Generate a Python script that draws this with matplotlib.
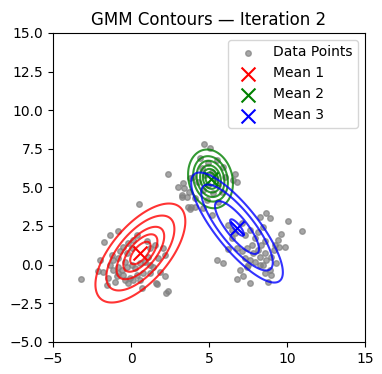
import numpy as np
import matplotlib
matplotlib.use('Agg')
import matplotlib.pyplot as plt

# data points (x, y)
pts_x = [0.53, -3.22, -1.35, -0.81, -1.71, -1.99, -2.1, -1.45, -1.03, -1.56,
         2.18, 1.58, 1.65, 2.24, 2.35, 0.69, 2.07, 2.18, 1.75, 1.86,
         1.22, 1.22, 0.79, 0.37, -0.06, -0.49, -0.81, -1.13, -1.35, -1.13,
         -0.81, -0.71, -0.49, -0.17, 0.15, 0.37, 0.04, -0.28, -0.38, -0.28,
         0.04, 0.26, 0.58, 0.9, 1.11, 1.22, 1.54, 1.0, -0.81, -0.6,
         -1.77, -1.24, -0.92, -0.17, 0.15, -0.38, 1.43, 0.58, 3.25, 3.68,
         4.7, 5.06, 2.39, 3.03, 3.35, 3.42, 3.78, 3.99, 3.25, 3.57,
         3.72, 6.67, 6.56, 6.78, 3.85, 3.8, 4.1, 4.42, 4.96, 4.53,
         5.17, 4.74, 5.38, 4.31, 4.96, 5.6, 4.63, 5.28, 5.81, 6.03,
         5.92, 5.49, 4.1, 4.85, 5.6,
         8.63, 8.91, 10.04, 10.98, 8.27, 8.48, 9.62, 9.44, 9.23, 9.87,
         9.49, 9.17, 9.01, 8.69, 8.48, 8.59, 9.01, 8.8, 8.27, 7.63,
         7.2, 6.78, 6.99, 7.42, 5.49, 5.92, 6.24, 6.46, 6.67, 7.31,
         7.63, 7.95, 7.74, 7.42, 7.1, 6.78, 7.84, 8.16, 8.37, 8.27,
         7.95, 7.63, 7.31, 7.52, 8.59, 8.16, 8.59, 6.46, 6.24, 7.1,
         4.63, 5.17, 8.91, 9.33]
pts_y = [3.93, -0.94, 1.93, 2.18, 1.45, 0.31, -0.4, -0.84, -1.14, -1.31,
         -0.71, -1.2, -1.28, -1.81, -1.74, -1.52, 1.07, 0.59, 0.42, -0.45,
         -0.55, -0.02, -0.55, -0.66, -0.88, -0.66, -0.55, -0.34, -0.02, 0.31,
         0.42, 0.85, 1.17, 1.39, 1.6, 1.93, 1.07, 0.74, 0.2, -0.13,
         -0.02, -0.23, 0.09, 0.2, 0.52, 1.07, 1.28, 1.5, -0.13, -0.34,
         -0.45, 0.63, -0.77, -1.2, -0.99, -0.99, -0.13, -0.99, 4.4, 3.76,
         7.8, 7.54, 5.85, 5.05, 5.27, 4.98, 5.6, 5.7, 4.51, 4.4,
         4.73, 5.85, 5.49, 5.38, 3.76, 3.62, 3.76, 6.89, 6.57, 6.24,
         6.02, 5.81, 5.6, 5.38, 5.16, 5.16, 4.84, 4.63, 4.73, 5.7,
         6.35, 6.78, 4.3, 4.19, 4.08,
         3.33, 3.01, 2.83, 2.18, 3.11, 2.46, 1.97, 1.6, 1.28, 1.13,
         1.17, 0.95, 0.52, 0.31, -0.02, -0.55, -0.66, -1.14, -0.02, -1.2,
         -0.77, -0.94, -0.34, -0.13, 0.31, 0.09, 1.02, 1.71, 2.04, 1.93,
         2.25, 1.71, 1.28, 1.07, 0.85, 1.07, 0.74, 0.95, 1.28, 0.52,
         0.2, 0.31, 0.42, -0.02, 0.74, 2.14, 1.5, 2.25, 2.58, 2.68,
         3.65, 3.22, -0.34, 0.09]

# GMM parameters at iteration 2
means = [[0.6, 0.75], [5.1, 5.55], [6.8, 2.4]]
covs = [[[2.43, 1.72], [1.72, 3.0]],
        [[0.55, -0.11], [-0.11, 0.96]],
        [[2.89, -2.85], [-2.85, 4.24]]]
colors = ['red', 'green', 'blue']
# contour rings as Mahalanobis distances
ring_r = [[0.42, 0.7, 0.98, 1.4, 1.85],
          [0.43, 0.66, 0.9, 1.2, 1.5, 1.94],
          [0.26, 0.83, 1.35, 1.73]]


def mahal(X, Y, mu, cov):
    inv = np.linalg.inv(np.array(cov))
    dx = X - mu[0]
    dy = Y - mu[1]
    q = inv[0, 0]*dx*dx + 2*inv[0, 1]*dx*dy + inv[1, 1]*dy*dy
    return np.sqrt(q)


fig = plt.figure(figsize=(3.82, 3.74), dpi=100)
ax = fig.add_axes([0.139, 0.086, 0.816, 0.826])

ax.scatter(pts_x, pts_y, s=16, color='gray', alpha=0.7, label='Data Points')

gx = np.linspace(-5, 15, 400)
gy = np.linspace(-5, 15, 400)
X, Y = np.meshgrid(gx, gy)
for k in range(3):
    D = mahal(X, Y, means[k], covs[k])
    ax.contour(X, Y, D, levels=ring_r[k], colors=colors[k], alpha=0.8, linewidths=1.5)

for k in range(3):
    ax.scatter(means[k][0], means[k][1], marker='x', s=100, color=colors[k],
               label='Mean %d' % (k+1))

ax.set_xlim(-5, 15)
ax.set_ylim(-5, 15)
ax.set_xticks([-5, 0, 5, 10, 15])
ax.set_title('GMM Contours — Iteration 2')
ax.legend(loc='upper right')

plt.savefig('out.png')
plt.close(fig)
